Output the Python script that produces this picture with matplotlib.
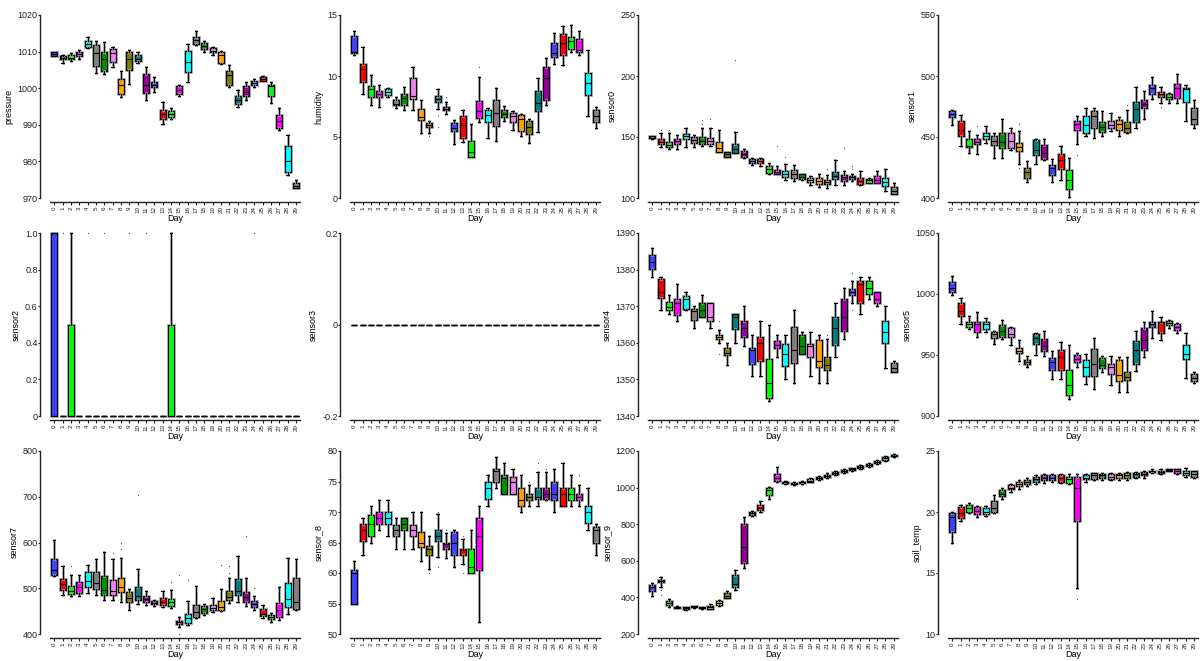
import matplotlib
matplotlib.use('Agg')
import matplotlib.pyplot as plt
import matplotlib.patheffects as pe

plt.rcParams['font.family'] = ['Liberation Sans', 'DejaVu Sans']

days = list(range(30))
day_colors = ['#4040ff', '#ff0000', '#00ff00', '#ff00ff', '#00ffff', '#808080',
              '#009000', '#ee82ee', '#ffa500', '#808000', '#008080', '#990099']

# (whisker low, q1, median, q3, whisker high) per day
pressure = [
    (1008.8, 1008.9, 1009.3, 1009.8, 1010.0), (1007.0, 1008.0, 1008.3, 1008.7, 1009.0),
    (1007.3, 1008.0, 1008.3, 1009.0, 1009.5), (1008.0, 1008.8, 1009.3, 1010.0, 1010.5),
    (1011.0, 1011.3, 1012.2, 1013.0, 1014.0), (1004.2, 1006.1, 1009.6, 1011.8, 1012.8),
    (1003.8, 1004.8, 1008.0, 1010.0, 1012.7), (1005.8, 1007.1, 1009.7, 1010.6, 1011.3),
    (997.6, 998.3, 1001.0, 1002.6, 1004.8), (1001.2, 1005.0, 1008.0, 1009.8, 1010.5),
    (1006.9, 1007.3, 1008.0, 1009.2, 1009.8), (996.7, 998.6, 1001.0, 1004.0, 1005.8),
    (999.0, 1000.2, 1001.0, 1001.8, 1003.0), (990.3, 991.5, 993.0, 994.0, 996.3),
    (991.5, 992.2, 992.9, 993.7, 994.5), (998.0, 998.3, 999.5, 1000.6, 1001.0),
    (1001.8, 1004.3, 1007.2, 1010.3, 1012.2), (1011.8, 1012.2, 1013.1, 1013.9, 1015.5),
    (1009.8, 1010.7, 1011.6, 1012.4, 1013.0), (1009.2, 1009.8, 1010.3, 1011.0, 1011.3),
    (1006.6, 1006.9, 1009.2, 1009.8, 1010.3), (1000.2, 1000.9, 1003.5, 1004.6, 1006.3),
    (995.0, 995.7, 996.8, 997.9, 999.5), (996.7, 998.0, 999.0, 1000.5, 1001.7),
    (1000.3, 1000.8, 1001.4, 1001.9, 1002.6), (1002.0, 1002.1, 1002.6, 1003.0, 1003.4),
    (995.9, 997.9, 1000.5, 1000.8, 1001.8), (988.5, 989.2, 991.1, 992.8, 994.5),
    (976.2, 977.2, 980.1, 984.3, 987.2), (972.7, 972.8, 973.3, 974.1, 974.8)]
pressure_fliers = {}

humidity = [
    (11.7, 11.85, 12.0, 13.25, 13.7), (8.5, 9.47, 10.6, 10.98, 12.4), (7.6, 8.3, 8.95, 9.2, 10.1),
    (7.5, 8.24, 8.5, 8.79, 9.3), (8.3, 8.48, 8.7, 8.9, 9.0), (7.4, 7.66, 7.7, 8.0, 8.3),
    (7.2, 7.66, 8.2, 8.5, 9.1), (7.2, 8.13, 8.35, 9.8, 10.7), (5.35, 6.43, 6.65, 7.28, 8.05),
    (5.35, 5.78, 5.95, 6.16, 6.3), (7.3, 7.85, 8.1, 8.32, 8.9), (6.9, 7.2, 7.3, 7.47, 7.85),
    (4.4, 5.47, 5.7, 6.16, 6.4), (4.6, 4.95, 6.0, 6.76, 7.2), (3.4, 3.4, 3.8, 4.7, 6.1),
    (6.2, 6.57, 7.1, 7.94, 9.9), (4.9, 6.24, 6.8, 7.25, 7.4), (4.7, 5.94, 7.0, 8.07, 9.0),
    (6.3, 6.6, 6.85, 7.25, 7.55), (5.6, 6.19, 6.7, 7.0, 7.1), (5.1, 5.47, 6.45, 6.84, 6.9),
    (4.5, 5.23, 5.8, 6.3, 6.5), (5.4, 7.12, 7.8, 8.76, 9.8), (7.6, 8.07, 9.8, 10.73, 11.5),
    (11.0, 11.52, 11.85, 12.67, 13.5), (10.9, 11.74, 12.7, 13.44, 14.1), (12.0, 12.18, 12.9, 13.17, 14.2),
    (11.7, 11.93, 12.1, 13.0, 13.7), (6.7, 8.43, 9.4, 10.24, 12.1), (5.7, 6.21, 6.75, 7.2, 7.5)]
humidity_fliers = {9: [5.1], 10: [6.8, 5.8], 11: [8.3], 15: [10.7]}

sensor0 = [
    (148, 149, 149.5, 150.6, 151), (142, 144, 146, 148, 153), (140, 141.6, 143.5, 146, 153),
    (140, 144, 146.5, 148.5, 152), (142, 148.7, 151, 152.8, 157), (142, 145.4, 147.5, 150, 152),
    (143, 144.6, 147, 150, 157), (143, 144, 147, 149.5, 157), (138, 138, 141, 146, 156),
    (133.5, 134, 136, 137.8, 138), (137, 137.2, 140, 144, 154), (133, 133.6, 136, 138.6, 140),
    (127, 128.7, 130.5, 132, 132.5), (126, 128.7, 130.5, 132, 133), (120, 120.2, 123.5, 126.5, 129),
    (119.5, 120, 121.5, 122.7, 126), (115, 117, 120, 122, 128), (114, 116.4, 120, 123.2, 127),
    (115, 115.3, 117.5, 119.4, 120), (111, 112.9, 115, 116.7, 118), (109, 111.8, 114, 116.4, 120),
    (108, 111.8, 113.5, 115, 119), (111, 115.6, 118, 121.6, 131), (111, 114.2, 117, 118.6, 122),
    (114, 115.3, 117, 118, 120), (111, 111.8, 114, 116, 122), (112, 112.6, 114.5, 115.3, 116),
    (112, 112, 115, 117.8, 122), (106, 110.1, 113.5, 116.2, 124), (103, 103.5, 106, 108.8, 112)]
sensor0_fliers = {1: [156], 2: [156], 6: [161, 164], 7: [165], 10: [213], 15: [143],
                  16: [134], 21: [124], 23: [141], 24: [124, 126]}

sensor1 = [
    (460, 466, 469, 471.2, 472), (443, 451, 456, 463.2, 468), (437, 441.6, 443, 448.7, 455),
    (436, 444, 446, 448, 452), (445, 448, 451, 453.4, 459), (433, 443.8, 447, 450.6, 453),
    (433, 440.8, 446, 453.4, 465), (439, 440.8, 447, 453.6, 457), (428, 438.6, 442, 445.4, 455),
    (413, 416.7, 421, 424.6, 430), (428, 435, 439, 447.3, 448), (431, 432.3, 437, 443.8, 448),
    (413, 419, 425, 426.8, 432), (415, 424, 431, 436.4, 443), (401, 407, 415, 422.7, 433),
    (444, 455.6, 461, 463.2, 467), (451, 453.6, 460, 467.6, 474), (449, 457, 467, 471, 474),
    (451, 454.2, 458, 462.4, 471), (455, 457.7, 460, 463.2, 470), (451, 455.6, 461, 464.3, 466),
    (453, 454.2, 457, 462.4, 472), (457, 462.4, 473, 478.8, 491), (465, 474, 477, 480, 488),
    (481, 485, 490, 492.8, 499), (478, 483, 485, 486.8, 491), (478, 481, 483, 485, 486),
    (478, 482, 490, 493.3, 502), (463, 478.3, 489, 490.3, 493), (457, 460.5, 465, 473.4, 480)]
sensor1_fliers = {3: [459], 8: [461, 425], 15: [435], 21: [476], 25: [475]}

sensor2 = [(0, 0, 1, 1, 1), (0, 0, 0, 0, 0), (0, 0, 0, 0.5, 1)] + [(0, 0, 0, 0, 0)] * 11 + \
          [(0, 0, 0, 0.5, 1)] + [(0, 0, 0, 0, 0)] * 15
sensor2_fliers = {1: [1], 4: [1], 6: [1], 9: [1], 11: [1], 24: [1]}

sensor3 = [(0, 0, 0, 0, 0)] * 30
sensor3_fliers = {}

sensor4 = [
    (1378, 1380.3, 1382, 1384, 1386), (1369, 1372.2, 1374, 1377.4, 1378), (1368, 1369, 1369.7, 1371.1, 1373),
    (1366, 1367.5, 1371, 1372, 1376), (1369, 1369.2, 1372, 1372.8, 1374), (1364, 1366.2, 1368.8, 1369.2, 1370),
    (1367, 1367, 1369, 1371, 1373), (1364, 1366, 1367, 1370.8, 1371), (1360, 1361, 1361.5, 1362, 1363.5),
    (1354, 1356.6, 1357.3, 1358.5, 1360), (1360, 1363.8, 1367, 1368, 1368), (1359, 1361.5, 1364, 1365.9, 1370),
    (1351, 1354.3, 1358, 1358.6, 1362), (1351, 1355, 1360, 1361.7, 1366), (1344, 1345, 1349, 1355.6, 1365),
    (1356, 1358.6, 1359.5, 1360.5, 1362), (1350, 1353.6, 1357, 1359.6, 1362), (1349, 1354.5, 1358, 1364.2, 1369),
    (1357, 1357, 1359, 1362, 1363), (1351, 1356.2, 1359, 1359.8, 1363), (1349, 1353.4, 1355, 1360.7, 1362),
    (1349, 1352.5, 1354, 1356.2, 1361), (1356, 1359.3, 1364, 1367, 1371), (1361, 1363.3, 1367, 1371.9, 1375),
    (1371, 1373, 1374, 1374.7, 1377), (1368, 1371, 1376, 1377, 1378), (1372, 1373.4, 1375, 1377, 1378),
    (1370, 1371, 1372, 1373.8, 1374), (1353, 1360, 1363, 1366, 1370), (1352, 1352, 1353, 1354.5, 1355)]
sensor4_fliers = {8: [1366, 1357], 21: [1362], 24: [1379, 1369]}

sensor5 = [
    (999, 1002, 1005, 1009.7, 1015), (975, 982.3, 986, 992.4, 997), (971, 972.7, 975, 976.8, 982),
    (965, 969, 975, 977, 985), (969, 971.3, 975, 977.3, 980), (959, 963.6, 967, 969.1, 970),
    (963, 965, 970, 974.3, 979), (958, 964.4, 967, 971.8, 973), (945, 951.3, 953, 955.4, 962),
    (940, 942.5, 944, 945.8, 949), (950, 958.7, 964, 966.9, 968), (949, 952.9, 957, 963, 970),
    (930, 938, 944, 947.7, 953), (930, 937.6, 948, 954, 961), (914, 917, 925, 937.6, 958),
    (940, 944, 947, 949.6, 952), (926, 932.6, 940, 946.3, 951), (922, 932.6, 943, 954.6, 964),
    (936, 939.2, 942, 947.2, 949), (925, 934.8, 940, 942.5, 949), (920, 929, 934, 945.8, 948),
    (920, 929.6, 932, 936.2, 948), (937, 942.8, 954, 961.4, 970), (948, 953.8, 962, 971.8, 977),
    (964, 972.7, 975, 977.3, 986), (962, 967.7, 977, 977.3, 981), (972, 974.3, 976, 978.2, 979),
    (968, 970.5, 973, 975.2, 976), (931, 946.4, 951, 958.2, 968), (927, 928.5, 931, 934.3, 936)]
sensor5_fliers = {8: [943]}

sensor7 = [
    (527, 530, 540, 564.5, 605), (486, 496.5, 510, 520, 548), (484, 487.8, 494, 505.3, 528),
    (483, 490.7, 502, 512.6, 529), (490, 502.4, 516, 535, 551), (485, 498, 511, 534.6, 563),
    (475, 485.6, 497, 525.8, 580), (475, 485.6, 494, 518.5, 565), (471, 491.4, 502, 522, 566),
    (453, 469.5, 478, 491.4, 498), (465, 475.3, 483, 502.4, 541), (463, 469.5, 477, 483.4, 494),
    (461, 466, 468, 471.7, 475), (459, 464.3, 471, 479, 494), (456, 460.7, 470, 476, 497),
    (415, 422, 426, 429.3, 438), (420, 423.4, 435, 443.9, 472), (435, 436.6, 448, 464, 504),
    (441, 446, 455, 462, 465), (447, 452, 456, 463, 478), (451, 452, 460, 472, 499),
    (468, 474, 481, 494, 522), (470, 485, 495, 520, 570), (462, 470, 480, 492, 522),
    (452, 460, 466, 472, 483), (436, 439, 444, 454, 464), (427, 432, 437, 442, 446),
    (431, 438, 453, 468, 503), (443, 458, 477, 511, 567), (452, 455, 470, 523, 563)]
sensor7_fliers = {2: [548], 7: [578], 8: [585, 600], 10: [704], 14: [513], 15: [530, 400],
                  16: [519], 20: [550], 21: [533, 548], 23: [615], 24: [500]}

sensor_8 = [
    (55, 55, 60, 60.5, 62), (63, 65.2, 67, 68, 69), (65, 66, 68, 69.5, 71), (67, 68, 69, 70, 72),
    (66, 68, 69, 70, 72), (64, 66, 67, 67.8, 69), (64, 67, 68, 69, 69), (64, 66, 67, 67.8, 70),
    (62, 64.2, 65, 66.8, 70), (60.7, 63, 64, 64.5, 66), (62.6, 65.2, 66, 67, 69.6),
    (62.5, 64, 64.8, 65, 66.5), (61, 63, 65, 66.8, 67), (61.5, 63, 63.8, 64, 65.5),
    (60, 60, 61, 64, 67), (52, 60.5, 66, 69, 71), (71, 72.2, 74, 75, 76), (74, 75, 76.8, 77.1, 79),
    (73, 73, 75.5, 76, 78), (73, 73, 75, 75.8, 77), (70, 71, 72, 74, 76), (71, 72, 72.5, 73, 74.5),
    (71, 72.2, 72.5, 74, 76.6), (72, 72.2, 73, 74, 76.6), (70, 72, 73, 75, 77), (71, 71, 73, 74, 78),
    (71, 72, 73, 74, 76), (71, 72, 72.5, 73, 74.5), (67, 68.2, 70, 71, 74), (63, 65, 67, 67.5, 68)]
sensor_8_fliers = {9: [60], 10: [70, 61], 11: [67], 13: [66, 60], 21: [75], 22: [78], 23: [77], 27: [76]}

sensor_9 = [
    (405, 433, 455, 470, 478), (458, 483, 490, 497, 512), (350, 358, 368, 380, 392),
    (340, 342, 346, 350, 352), (332, 335, 340, 345, 348), (342, 345, 348, 352, 355),
    (338, 340, 344, 348, 350), (335, 338, 345, 352, 362), (355, 360, 370, 378, 385),
    (395, 398, 410, 425, 435), (442, 455, 475, 520, 548), (558, 590, 675, 800, 842),
    (845, 848, 860, 868, 872), (868, 875, 890, 905, 925), (940, 958, 985, 998, 1005),
    (1028, 1035, 1050, 1075, 1115), (1022, 1025, 1028, 1032, 1035), (1015, 1018, 1022, 1026, 1028),
    (1018, 1025, 1028, 1032, 1038), (1028, 1032, 1038, 1045, 1050), (1040, 1045, 1050, 1058, 1062),
    (1052, 1058, 1065, 1070, 1078), (1068, 1072, 1078, 1083, 1088), (1078, 1083, 1090, 1095, 1100),
    (1090, 1095, 1100, 1105, 1108), (1102, 1108, 1112, 1118, 1122), (1115, 1120, 1125, 1130, 1134),
    (1128, 1132, 1140, 1148, 1152), (1148, 1152, 1160, 1165, 1170), (1167, 1170, 1175, 1180, 1182)]
sensor_9_fliers = {1: [440, 415]}

soil_temp = [
    (17.5, 18.4, 19.6, 19.9, 20.0), (19.3, 19.5, 19.9, 20.4, 20.6), (19.9, 20.0, 20.3, 20.6, 20.7),
    (19.6, 19.8, 20.1, 20.4, 20.5), (19.7, 19.8, 20.0, 20.3, 20.5), (19.9, 20.0, 20.3, 20.9, 21.4),
    (21.1, 21.3, 21.5, 21.8, 22.0), (21.6, 21.9, 22.0, 22.2, 22.3), (21.9, 22.1, 22.3, 22.5, 22.6),
    (22.1, 22.3, 22.5, 22.6, 22.8), (22.3, 22.5, 22.7, 22.9, 23.0), (22.4, 22.6, 22.8, 23.0, 23.1),
    (22.5, 22.6, 22.8, 23.0, 23.1), (22.4, 22.5, 22.8, 23.0, 23.1), (22.3, 22.4, 22.7, 22.9, 23.1),
    (13.8, 19.3, 22.0, 22.9, 23.1), (22.5, 22.7, 22.8, 23.0, 23.1), (22.6, 22.7, 23.0, 23.2, 23.2),
    (22.6, 22.8, 23.0, 23.1, 23.2), (22.6, 22.7, 22.9, 23.1, 23.2), (22.6, 22.8, 23.0, 23.1, 23.2),
    (22.6, 22.8, 23.0, 23.2, 23.3), (22.8, 22.9, 23.1, 23.2, 23.3), (22.8, 23.0, 23.1, 23.3, 23.4),
    (23.2, 23.3, 23.35, 23.4, 23.5), (23.1, 23.2, 23.3, 23.4, 23.5), (23.35, 23.4, 23.45, 23.5, 23.55),
    (23.1, 23.2, 23.4, 23.5, 23.55), (22.9, 23.0, 23.2, 23.4, 23.6), (22.8, 22.9, 23.1, 23.4, 23.4)]
soil_temp_fliers = {15: [12.9]}

panels = [
    ('pressure', pressure, pressure_fliers, [970, 980, 990, 1000, 1010, 1020], None),
    ('humidity', humidity, humidity_fliers, [0, 5, 10, 15], None),
    ('sensor0', sensor0, sensor0_fliers, [100, 150, 200, 250], None),
    ('sensor1', sensor1, sensor1_fliers, [400, 450, 500, 550], None),
    ('sensor2', sensor2, sensor2_fliers, [0, 0.2, 0.4, 0.6, 0.8, 1.0], ['0', '0.2', '0.4', '0.6', '0.8', '1.0']),
    ('sensor3', sensor3, sensor3_fliers, [-0.2, 0, 0.2], ['-0.2', '0', '0.2']),
    ('sensor4', sensor4, sensor4_fliers, [1340, 1350, 1360, 1370, 1380, 1390], None),
    ('sensor5', sensor5, sensor5_fliers, [900, 950, 1000, 1050], None),
    ('sensor7', sensor7, sensor7_fliers, [400, 500, 600, 700, 800], None),
    ('sensor_8', sensor_8, sensor_8_fliers, [50, 55, 60, 65, 70, 75, 80], None),
    ('sensor_9', sensor_9, sensor_9_fliers, [200, 400, 600, 800, 1000, 1200], None),
    ('soil_temp', soil_temp, soil_temp_fliers, [10, 15, 20, 25], None),
]

W, H = 1204, 661
fig = plt.figure(figsize=(W / 100, H / 100), dpi=100)

col_left = [50, 350, 648, 948]
row_top = [15, 233, 451]
ax_w, ax_h = 250, 183

halo = [pe.Stroke(linewidth=1.9, foreground='#a0a0a0'), pe.Normal()]

for k, (name, rows, fl, yticks, ylabels) in enumerate(panels):
    r, c = divmod(k, 4)
    ax = fig.add_axes([col_left[c] / W, 1 - (row_top[r] + ax_h) / H, ax_w / W, ax_h / H])
    stats = [dict(whislo=a, q1=b, med=m, q3=d, whishi=e, fliers=fl.get(i, []))
             for i, (a, b, m, d, e) in enumerate(rows)]
    art = ax.bxp(stats, positions=days, widths=0.72, patch_artist=True, capwidths=0.3,
                 boxprops=dict(edgecolor='black', linewidth=0.8),
                 medianprops=dict(color='black', linewidth=0.8),
                 whiskerprops=dict(color='black', linewidth=0.8),
                 capprops=dict(color='black', linewidth=0.8),
                 flierprops=dict(marker='o', markersize=0.9, markerfacecolor='#555555',
                                 markeredgecolor='none'))
    for i, patch in enumerate(art['boxes']):
        patch.set_facecolor(day_colors[i % 12])
        patch.set_path_effects(halo)
    for ln in art['whiskers']:
        ln.set_path_effects(halo)
    for group in art.values():
        for a in group:
            a.set_clip_on(False)

    ax.set_xlim(-0.5, 29.5)
    ax.set_ylim(yticks[0], yticks[-1])
    ax.set_yticks(yticks)
    if ylabels:
        ax.set_yticklabels(ylabels)
    ax.set_xticks(days)
    ax.set_xticklabels([str(d) for d in days])
    for s in ['top', 'right']:
        ax.spines[s].set_visible(False)
    ax.spines['left'].set_position(('outward', 7))
    ax.spines['bottom'].set_position(('outward', 3))
    for s in ['left', 'bottom']:
        ax.spines[s].set_linewidth(1.0)
        ax.spines[s].set_color('#222222')
    ax.tick_params(axis='y', labelsize=6.5, length=1.6, width=0.8, pad=0.3, colors='#222222')
    ax.tick_params(axis='x', labelsize=4.5, length=2, width=0.8, pad=1, colors='#222222',
                   labelrotation=90)
    ax.set_ylabel(name, fontsize=6.5, labelpad=3)
    ax.set_xlabel('Day', fontsize=6.5, labelpad=0.5)

fig.savefig('out.png', dpi=100)
